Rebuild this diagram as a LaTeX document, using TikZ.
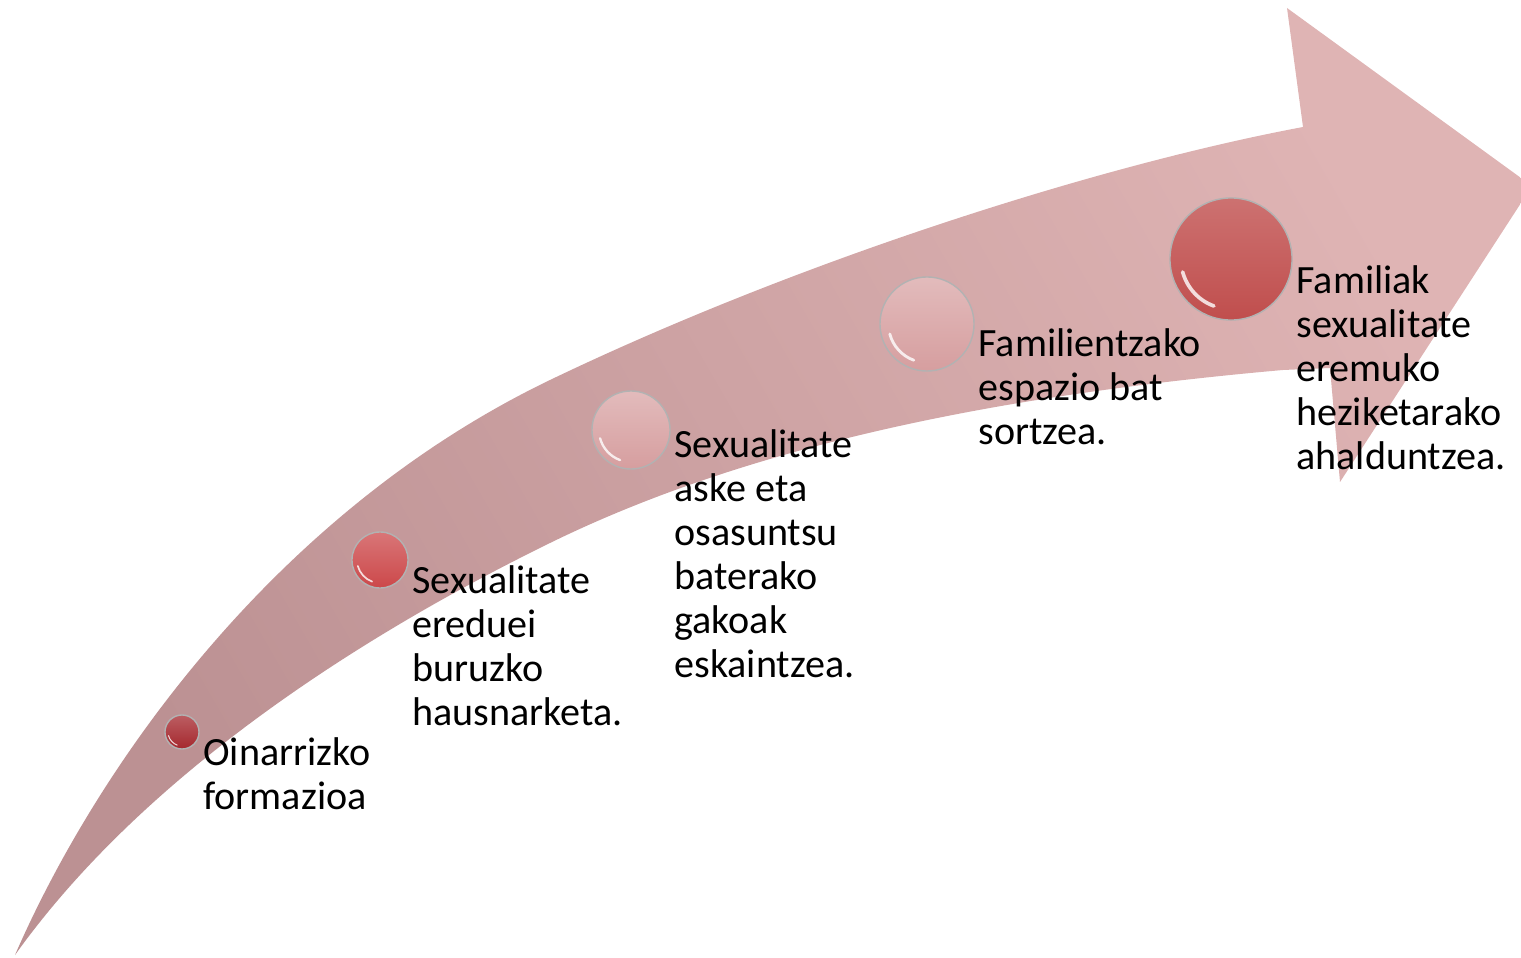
\documentclass[tikz,border=0pt]{standalone}
\usepackage{fontspec}
\setmainfont{Carlito}
\usetikzlibrary{positioning,calc}

\definecolor{arrowdark}{RGB}{188,145,147}
\definecolor{arrowlight}{RGB}{223,180,180}
\definecolor{beaddark}{RGB}{165,40,46}
\definecolor{beadred}{RGB}{204,72,74}
\definecolor{beadpale}{RGB}{214,158,159}
\definecolor{beadbig}{RGB}{192,78,77}

\begin{document}
\begin{tikzpicture}[x=0.01cm,y=-0.01cm,
	bead/.style={circle,draw=black!30,line width=0.4pt,inner sep=0pt},
	lbl/.style={anchor=north west,align=left,inner sep=0pt,font=\fontsize{11.4}{12.5}\selectfont}]
			
			\useasboundingbox (0,0) rectangle (1521,958);
			\clip (0,0) rectangle (1521,958);
			
			% curved arrow
			\shade[left color=arrowdark,right color=arrowlight,shading angle=120]
			(15,955) .. controls (100,760) and (280,510) .. (550,380)
			.. controls (800,260) and (1100,165) .. (1303,127)
			-- (1287,8) -- (1532,186) -- (1340,482) -- (1330,368) -- (1283,370)
			.. controls (1000,395) and (750,445) .. (550,543)
			.. controls (350,641) and (140,780) .. (15,955) -- cycle;
			
			% beads
			\node[bead,minimum size=0.34cm,top color=beaddark!75!white,bottom color=beaddark] (c1) at (182,732) {};
			\node[bead,minimum size=0.56cm,top color=beadred!75!white,bottom color=beadred] (c2) at (380,560) {};
			\node[bead,minimum size=0.78cm,top color=beadpale!70!white,bottom color=beadpale] (c3) at (631,430) {};
			\node[bead,minimum size=0.94cm,top color=beadpale!70!white,bottom color=beadpale] (c4) at (927,324) {};
			\node[bead,minimum size=1.22cm,top color=beadbig!80!white,bottom color=beadbig] (c5) at (1231,259) {};
			
			\foreach \n/\r in {c1/0.17,c2/0.28,c3/0.39,c4/0.47,c5/0.61}
				\draw[white,opacity=0.8,line cap=round,line width=0.06*\r cm]
				([shift={(195:{0.82*\r cm})}]\n.center) arc[start angle=195,end angle=250,radius={0.82*\r cm}];
			
			% labels
			\node[lbl] (t1) at ([xshift=0.03cm,yshift=-0.05cm]c1.east) {Oinarrizko\\formazioa};
			\node[lbl] (t2) at ([xshift=0.03cm,yshift=-0.05cm]c2.east) {Sexualitate\\ereduei\\buruzko\\hausnarketa.};
			\node[lbl] (t3) at ([xshift=0.03cm,yshift=0.01cm]c3.east) {Sexualitate\\aske eta\\osasuntsu\\baterako\\gakoak\\eskaintzea.};
			\node[lbl] (t4) at ([xshift=0.03cm,yshift=-0.04cm]c4.east) {Familientzako\\espazio bat\\sortzea.};
			\node[lbl] (t5) at ([xshift=0.03cm,yshift=-0.06cm]c5.east) {Familiak\\sexualitate\\eremuko\\heziketarako\\ahalduntzea.};
			
		\end{tikzpicture}
\end{document}
